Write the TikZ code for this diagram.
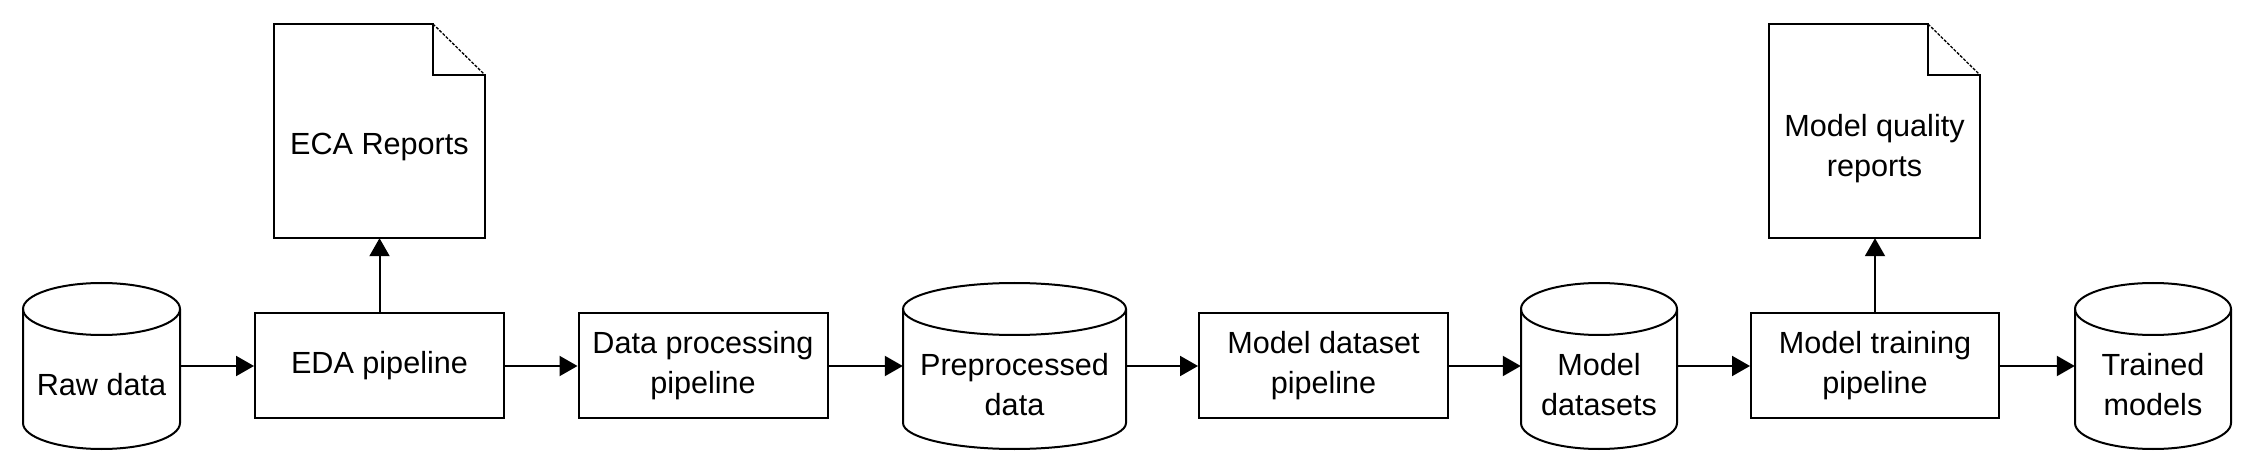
\documentclass[tikz,border=0pt]{standalone}
\usepackage{fontspec}
\setmainfont{Liberation Sans}
\usetikzlibrary{arrows.meta,calc}
\tikzset{
  ln/.style={draw=black,line width=2pt},
  procbox/.style={ln,rectangle,minimum width=249pt,minimum height=105pt,inner sep=0pt,align=center},
  shapebox/.style={rectangle,draw=none,inner sep=0pt},
  lbl/.style={align=center,inner sep=0pt},
  conn/.style={draw=black,line width=2pt,-{Triangle[length=18pt,width=20pt]}},
  fold/.style={draw=black,line width=1.3pt,dash pattern=on 3pt off 1.5pt}
}
\newcommand\mycyl[4]{%
  \node[shapebox,minimum width={2*#3},minimum height=166pt] (#1) at (#2,108) {};
  \draw[ln] (#2-#3,165) -- (#2-#3,51) arc[start angle=180,end angle=360,x radius=#3,y radius=26] -- (#2+#3,165);
  \draw[ln] (#2,165) ellipse[x radius=#3,y radius=26];
  \node[lbl] at (#2,89) {#4};}
\newcommand\mydoc[4]{% name, left, right, text y
  \node[shapebox,minimum width={#3-#2},minimum height=214pt] (#1) at ({(#2+#3)/2},343) {};
  \draw[ln] (#3-52,450) -- (#2,450) -- (#2,236) -- (#3,236) -- (#3,399) -- (#3-52,399) -- cycle;
  \draw[fold] (#3-52,450) -- (#3,399);}
\begin{document}
\begin{tikzpicture}[x=1pt,y=1pt,font=\fontsize{30.6}{40}\selectfont]
\useasboundingbox (0,0) rectangle (2258,474);
\fill[white] (0,0) rectangle (2258,474);
% cylinders
\mycyl{raw}{101.5}{78.5}{Raw data}
\mycyl{pre}{1014.5}{111.5}{Preprocessed\\data}
\mycyl{mds}{1599}{78}{Model\\datasets}
\mycyl{tm}{2153}{78}{Trained\\models}
% boxes
\node[procbox] (eda) at (379.5,108.5) {EDA pipeline};
\node[procbox] (dp) at (703,108.5) {Data processing\\pipeline};
\node[procbox] (md) at (1323.5,108.5) {Model dataset\\pipeline};
\node[procbox,minimum width=248pt] (mt) at (1875,108.5) {Model training\\pipeline};
% documents
\mydoc{eca}{274}{485}{327}
\node[lbl] at (379.5,327) {ECA Reports};
\mydoc{mq}{1769}{1980}{325}
\node[lbl] at (1874.5,325) {Model quality\\reports};
% connectors
\draw[conn] (raw.east |- 0,108) -- (eda.west |- 0,108);
\draw[conn] (eda.east |- 0,108) -- (dp.west |- 0,108);
\draw[conn] (dp.east |- 0,108) -- (pre.west |- 0,108);
\draw[conn] (pre.east |- 0,108) -- (md.west |- 0,108);
\draw[conn] (md.east |- 0,108) -- (mds.west |- 0,108);
\draw[conn] (mds.east |- 0,108) -- (mt.west |- 0,108);
\draw[conn] (mt.east |- 0,108) -- (tm.west |- 0,108);
\draw[conn] (eda.north) -- (eda.north |- eca.south);
\draw[conn] (mt.north) -- (mt.north |- mq.south);
\end{tikzpicture}
\end{document}
